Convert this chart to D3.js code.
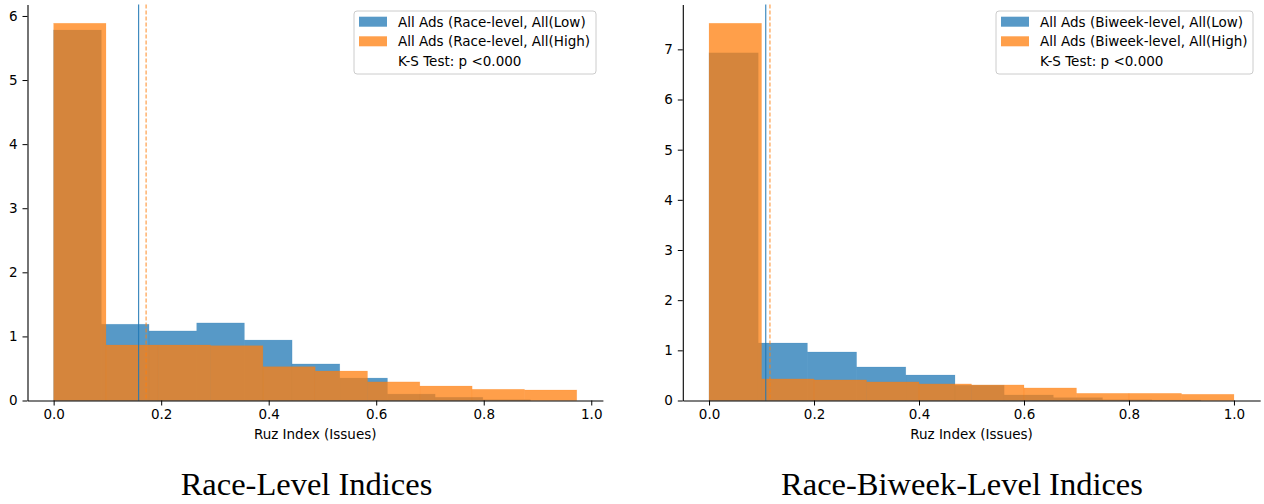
<!DOCTYPE html>
<html>
<head>
<meta charset="utf-8">
<script src="https://cdn.jsdelivr.net/npm/d3@7"></script>
<style>
  html, body { margin: 0; padding: 0; background: #fff; }
  svg { display: block; }
  text { font-family: "DejaVu Sans", sans-serif; fill: #000; }
</style>
</head>
<body>
<svg id="chart" width="1264" height="504"></svg>
<script>
// ---- Race-level histograms (density) ----
const raceLowEdges  = [0, 0.0887, 0.1774, 0.2661, 0.3548, 0.4435, 0.5322, 0.6209, 0.7096, 0.7983, 0.887];
const raceLowDens   = [5.78, 1.19, 1.085, 1.21, 0.943, 0.57, 0.35, 0.10, 0.05, 0.012];
const raceHighEdges = [0, 0.0973, 0.1946, 0.2919, 0.3892, 0.4865, 0.5838, 0.6811, 0.7784, 0.8757, 0.973];
const raceHighDens  = [5.886, 0.866, 0.866, 0.855, 0.527, 0.46, 0.29, 0.226, 0.175, 0.164];
const raceMeans     = [0.158, 0.172];   // Low, High

// ---- Race-biweek-level histograms (density) ----
const biweekLowEdges  = [0, 0.0937, 0.1874, 0.2811, 0.3748, 0.4685, 0.5622, 0.6559, 0.7496, 0.8433, 0.937];
const biweekLowDens   = [6.93, 1.146, 0.967, 0.668, 0.508, 0.305, 0.11, 0.056, 0.015, 0.008];
const biweekHighEdges = [0, 0.1, 0.2, 0.3, 0.4, 0.5, 0.6, 0.7, 0.8, 0.9, 1.0];
const biweekHighDens  = [7.52, 0.43, 0.41, 0.37, 0.33, 0.31, 0.25, 0.143, 0.143, 0.124];
const biweekMeans     = [0.108, 0.116];

const xTicks = [0, 0.2, 0.4, 0.6, 0.8, 1.0];
const raceYTicks = [0, 1, 2, 3, 4, 5, 6];
const biweekYTicks = [0, 1, 2, 3, 4, 5, 6, 7];

const raceLegend = ["All Ads (Race-level, All(Low)", "All Ads (Race-level, All(High)", "K-S Test: p <0.000"];
const biweekLegend = ["All Ads (Biweek-level, All(Low)", "All Ads (Biweek-level, All(High)", "K-S Test: p <0.000"];
const xLabel = "Ruz Index (Issues)";
const titles = ["Race-Level Indices", "Race-Biweek-Level Indices"];

const BLUE = "#1f77b4", ORANGE = "#ff7f0e";
const svg = d3.select("#chart");

function toBins(edges, dens) {
  return dens.map((d, i) => ({ x0: edges[i], x1: edges[i + 1], v: d }));
}

function panel(cfg) {
  const g = svg.append("g");
  const lo = d3.min([cfg.lowEdges[0], cfg.highEdges[0]]);
  const hi = d3.max([cfg.lowEdges[cfg.lowEdges.length - 1], cfg.highEdges[cfg.highEdges.length - 1]]);
  const pad = 0.05 * (hi - lo);
  const x = d3.scaleLinear().domain([lo - pad, hi + pad]).range([cfg.left, cfg.right]);
  const yMax = d3.max(cfg.lowDens.concat(cfg.highDens)) * 1.05;
  const y = d3.scaleLinear().domain([0, yMax]).range([cfg.bottom, cfg.top]);

  const series = [
    { bins: toBins(cfg.lowEdges, cfg.lowDens), color: BLUE },
    { bins: toBins(cfg.highEdges, cfg.highDens), color: ORANGE }
  ];
  series.forEach(s => {
    g.append("g").selectAll("rect").data(s.bins).join("rect")
      .attr("x", d => x(d.x0))
      .attr("width", d => x(d.x1) - x(d.x0))
      .attr("y", d => y(d.v))
      .attr("height", d => y(0) - y(d.v))
      .attr("fill", s.color)
      .attr("fill-opacity", 0.75)
      .attr("stroke", s.color)
      .attr("stroke-opacity", 0.25)
      .attr("stroke-width", 0.6);
  });

  // mean markers
  g.append("line")
    .attr("x1", x(cfg.means[0])).attr("x2", x(cfg.means[0]))
    .attr("y1", cfg.top).attr("y2", cfg.bottom)
    .attr("stroke", BLUE).attr("stroke-width", 1.2).attr("stroke-opacity", 0.85);
  g.append("line")
    .attr("x1", x(cfg.means[1])).attr("x2", x(cfg.means[1]))
    .attr("y1", cfg.top).attr("y2", cfg.bottom)
    .attr("stroke", ORANGE).attr("stroke-width", 1.5).attr("stroke-opacity", 0.6)
    .attr("stroke-dasharray", "4,2");

  // axes
  const xa = g.append("g").attr("transform", `translate(0,${cfg.bottom})`)
    .call(d3.axisBottom(x).tickValues(xTicks).tickFormat(d3.format(".1f")).tickSizeInner(5).tickSizeOuter(0).tickPadding(4));
  const ya = g.append("g").attr("transform", `translate(${cfg.left},0)`)
    .call(d3.axisLeft(y).tickValues(cfg.yTicks).tickFormat(d3.format("d")).tickSizeInner(5).tickSizeOuter(0).tickPadding(5));
  [xa, ya].forEach(a => {
    a.selectAll("text").style("font-size", "13.5px").style("font-family", "DejaVu Sans").attr("fill", "#000");
    a.selectAll("line").attr("stroke", "#000").attr("stroke-width", 1);
    a.select(".domain").attr("stroke", "#000").attr("stroke-width", 1.1);
  });

  g.append("text")
    .attr("x", (cfg.left + cfg.right) / 2).attr("y", cfg.bottom + 38.5)
    .attr("text-anchor", "middle").style("font-size", "13.5px")
    .text(xLabel);

  // legend
  const lg = g.append("g").attr("transform", `translate(${cfg.legX},${cfg.legY})`);
  lg.append("rect")
    .attr("width", cfg.legW).attr("height", 63).attr("rx", 3)
    .attr("fill", "#fff").attr("fill-opacity", 0.8)
    .attr("stroke", "#cccccc").attr("stroke-width", 1);
  [BLUE, ORANGE].forEach((c, i) => {
    lg.append("rect")
      .attr("x", 5).attr("y", 5.7 + i * 19.6).attr("width", 28).attr("height", 10)
      .attr("fill", c).attr("fill-opacity", 0.75);
  });
  cfg.legend.forEach((t, i) => {
    lg.append("text")
      .attr("x", 44).attr("y", 15.7 + i * 19.5)
      .style("font-size", "13.5px")
      .text(t);
  });

  svg.append("text")
    .attr("x", cfg.titleX).attr("y", 495)
    .attr("text-anchor", "middle")
    .style("font-family", "'Liberation Serif', 'DejaVu Serif', serif")
    .style("font-size", "32.5px")
    .text(cfg.title);
}

panel({
  lowEdges: raceLowEdges, lowDens: raceLowDens,
  highEdges: raceHighEdges, highDens: raceHighDens,
  means: raceMeans, yTicks: raceYTicks, legend: raceLegend, title: titles[0],
  left: 27.5, right: 602.9, top: 4.4, bottom: 400.5,
  legX: 354, legY: 11, legW: 242, titleX: 306.5
});
panel({
  lowEdges: biweekLowEdges, lowDens: biweekLowDens,
  highEdges: biweekHighEdges, highDens: biweekHighDens,
  means: biweekMeans, yTicks: biweekYTicks, legend: biweekLegend, title: titles[1],
  left: 682.8, right: 1260.2, top: 4.4, bottom: 400.5,
  legX: 996, legY: 11, legW: 257, titleX: 962
});
</script>
</body>
</html>
